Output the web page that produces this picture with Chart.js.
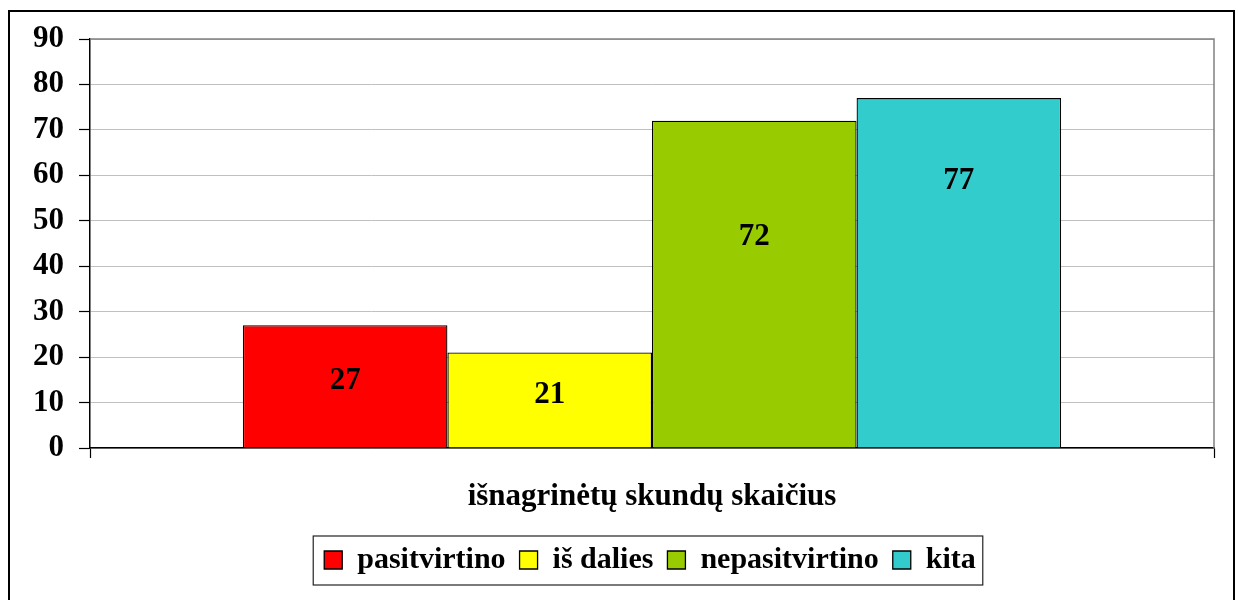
<!DOCTYPE html>
<html>
<head>
<meta charset="utf-8">
<script src="https://cdn.jsdelivr.net/npm/chart.js@4"></script>
<style>
  html, body { margin: 0; padding: 0; background: #fff; }
  #wrap { position: relative; width: 1238px; height: 600px; }
</style>
</head>
<body>
<div id="wrap"><canvas id="skundai" width="1238" height="600"></canvas></div>
<script>
const categories = ['išnagrinėtų skundų skaičius'];
const seriesNames = ['pasitvirtino', 'iš dalies', 'nepasitvirtino', 'kita'];
const seriesValues = [27, 21, 72, 77];
const seriesColors = ['#FF0000', '#FFFF00', '#99CC00', '#33CCCC'];
// where each value label sits, in axis units (labels are not centred in the original)
const labelLevels = [14.7, 11.7, 46.4, 58.8];
const yTicks = [0, 10, 20, 30, 40, 50, 60, 70, 80, 90];

const serif = '"Liberation Serif", "Times New Roman", serif';

const plotFrame = {
    id: 'plotFrame',
    beforeDatasetsDraw(chart) {
        const { ctx, chartArea: a } = chart;
        ctx.save();
        ctx.strokeStyle = '#808080';
        ctx.lineWidth = 1.5;
        ctx.beginPath();
        ctx.moveTo(a.left, a.top);
        ctx.lineTo(a.right, a.top);
        ctx.lineTo(a.right, a.bottom);
        ctx.stroke();
        ctx.restore();
    }
};

const valueLabels = {
    id: 'valueLabels',
    afterDatasetsDraw(chart) {
        const ctx = chart.ctx;
        const y = chart.scales.y;
        ctx.save();
        ctx.font = 'bold 31px ' + serif;
        ctx.fillStyle = '#000';
        ctx.textAlign = 'center';
        ctx.textBaseline = 'middle';
        chart.data.datasets.forEach((ds, i) => {
            const bar = chart.getDatasetMeta(i).data[0];
            ctx.fillText(String(ds.data[0]), bar.x, y.getPixelForValue(labelLevels[i]));
        });
        ctx.restore();
    }
};

const frames = {
    id: 'frames',
    afterLayout(chart) {
        // legend in the original sits under the plot centre, not the canvas centre
        const lg = chart.legend;
        lg.right = 1300 - lg.left;
    },
    afterDraw(chart) {
        const ctx = chart.ctx;
        ctx.save();
        ctx.strokeStyle = '#000';
        ctx.lineWidth = 2;
        ctx.strokeRect(9, 11, 1225, 600);

        const boxes = chart.legend.legendHitBoxes;
        if (boxes && boxes.length) {
            const first = boxes[0];
            const last = boxes[boxes.length - 1];
            ctx.strokeStyle = '#222';
            ctx.lineWidth = 1.2;
            ctx.strokeRect(first.left - 11, first.top - 9, last.left + last.width - first.left + 18, first.height + 19);
        }
        ctx.restore();
    }
};

new Chart(document.getElementById('skundai'), {
    type: 'bar',
    data: {
        labels: categories,
        datasets: seriesNames.map((name, i) => ({
            label: name,
            data: [seriesValues[i]],
            backgroundColor: seriesColors[i],
            borderColor: '#000',
            borderWidth: 1.3,
            barPercentage: 1,
            categoryPercentage: 0.728
        }))
    },
    options: {
        responsive: false,
        animation: false,
        layout: { padding: { left: 0, right: 24, top: 39, bottom: 15 } },
        scales: {
            x: {
                offset: true,
                grid: { display: true, offset: true, drawOnChartArea: false, tickLength: 10, tickColor: '#000', tickWidth: 1.2 },
                border: { color: '#000', width: 1.5 },
                ticks: { color: '#000', padding: 20, font: { family: serif, size: 31, weight: 'bold' } },
                afterFit(scale) { scale.height = 83; }
            },
            y: {
                min: 0,
                max: 90,
                afterBuildTicks(scale) { scale.ticks = yTicks.map(v => ({ value: v })); },
                grid: { color: '#C0C0C0', lineWidth: 1, tickLength: 11, tickColor: '#000', tickWidth: 1.2 },
                border: { color: '#000', width: 1.5 },
                ticks: { color: '#000', padding: 15, font: { family: serif, size: 31, weight: 'bold' } },
                afterFit(scale) { scale.width = 90; }
            }
        },
        plugins: {
            legend: {
                position: 'bottom',
                labels: {
                    color: '#000',
                    boxWidth: 18,
                    boxHeight: 18,
                    padding: 14,
                    font: { family: serif, size: 30, weight: 'bold' }
                }
            },
            tooltip: { enabled: false }
        }
    },
    plugins: [plotFrame, valueLabels, frames]
});
</script>
</body>
</html>
